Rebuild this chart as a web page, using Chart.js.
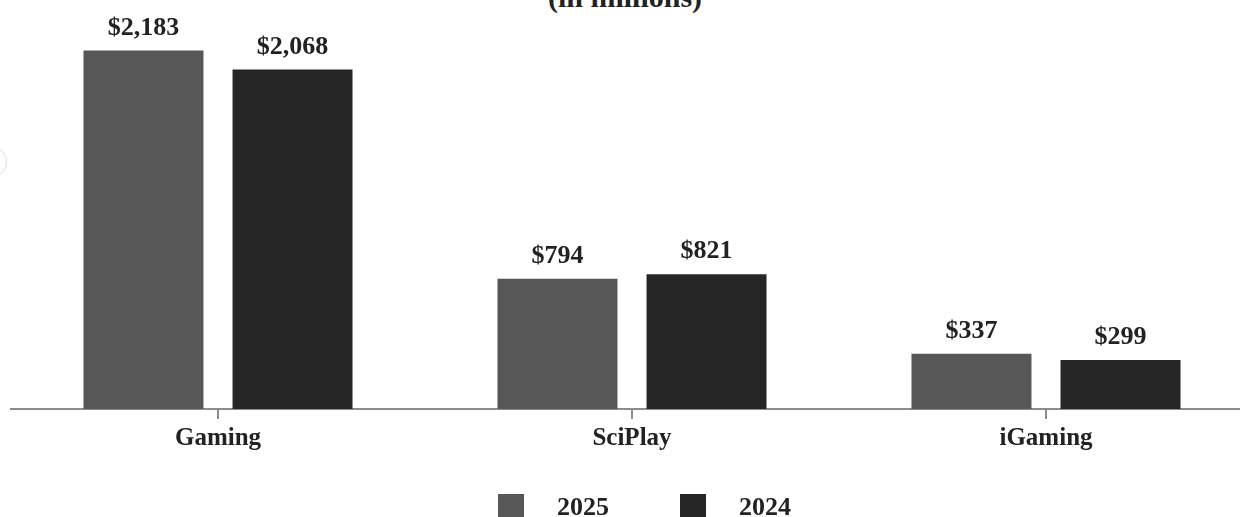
<!DOCTYPE html>
<html>
<head>
<meta charset="utf-8">
<script src="https://cdn.jsdelivr.net/npm/chart.js@4.4.1/dist/chart.umd.min.js"></script>
<style>
  html, body { margin: 0; padding: 0; background: #fff; overflow: hidden; width: 1240px; height: 517px; }
  body { position: relative; font-family: "Liberation Serif", "DejaVu Serif", serif; color: #222; }
  #chart { position: absolute; left: 0; top: 0; }
  #title { position: absolute; left: 0; width: 1250px; top: -18px; text-align: center;
           font-weight: bold; font-size: 30px; line-height: 30px; }
  #legend { position: absolute; left: 0; top: 494px; height: 26px; }
  .item { position: absolute; top: 0; height: 26px; }
  .box { position: absolute; top: 0; left: 0; width: 26px; height: 26px; }
  .txt { position: absolute; top: 0; left: 59px; font-weight: bold; font-size: 26px; line-height: 26px; white-space: nowrap; }
  #ring { position: absolute; left: -22px; top: 147px; width: 27px; height: 28px;
          border: 1px solid #e2e2e2; border-radius: 50%; }
</style>
</head>
<body>
<div id="ring"></div>
<div id="title">(in millions)</div>
<canvas id="chart" width="1253" height="517"></canvas>
<div id="legend"></div>
<script>
const categories = ['Gaming', 'SciPlay', 'iGaming'];
const seriesNames = ['2025', '2024'];
const values2025 = [2183, 794, 337];
const values2024 = [2068, 821, 299];
const colors = ['#575757', '#262626'];

const FONT = '"Liberation Serif", "DejaVu Serif", serif';

// draws the $ value above every bar
const valueLabels = {
    id: 'valueLabels',
    afterDatasetsDraw(chart) {
        const ctx = chart.ctx;
        ctx.save();
        ctx.font = 'bold 26px ' + FONT;
        ctx.fillStyle = '#222';
        ctx.textAlign = 'center';
        ctx.textBaseline = 'alphabetic';
        chart.data.datasets.forEach((ds, i) => {
            chart.getDatasetMeta(i).data.forEach((bar, j) => {
                ctx.fillText('$' + ds.data[j].toLocaleString('en-US'), bar.x, bar.y - 16);
            });
        });
        ctx.restore();
    }
};

const ctx = document.getElementById('chart').getContext('2d');
const chart = new Chart(ctx, {
    type: 'bar',
    data: {
        labels: categories,
        datasets: [
            { label: seriesNames[0], data: values2025, backgroundColor: colors[0] },
            { label: seriesNames[1], data: values2024, backgroundColor: colors[1] }
        ]
    },
    options: {
        responsive: false,
        animation: false,
        devicePixelRatio: 1,
        categoryPercentage: 0.72,
        barPercentage: 0.805,
        layout: { padding: { left: 11, right: 0, top: 15, bottom: 58 } },
        plugins: {
            legend: { display: false },
            tooltip: { enabled: false }
        },
        scales: {
            x: {
                grid: {
                    offset: false,
                    drawOnChartArea: false,
                    drawTicks: true,
                    tickLength: 10,
                    color: '#8c8c8c',
                    lineWidth: 2
                },
                border: { display: true, color: '#8c8c8c', width: 2 },
                ticks: {
                    padding: 5,
                    color: '#222',
                    font: { family: FONT, size: 25, weight: 'bold' }
                }
            },
            y: {
                display: false,
                min: 0,
                max: 2400
            }
        }
    },
    plugins: [valueLabels]
});

// legend built from the series arrays
const legend = document.getElementById('legend');
const legendX = [498, 680];
seriesNames.forEach((name, i) => {
    const item = document.createElement('div');
    item.className = 'item';
    item.style.left = legendX[i] + 'px';
    const box = document.createElement('div');
    box.className = 'box';
    box.style.background = colors[i];
    const txt = document.createElement('div');
    txt.className = 'txt';
    txt.textContent = name;
    item.appendChild(box);
    item.appendChild(txt);
    legend.appendChild(item);
});
</script>
</body>
</html>
